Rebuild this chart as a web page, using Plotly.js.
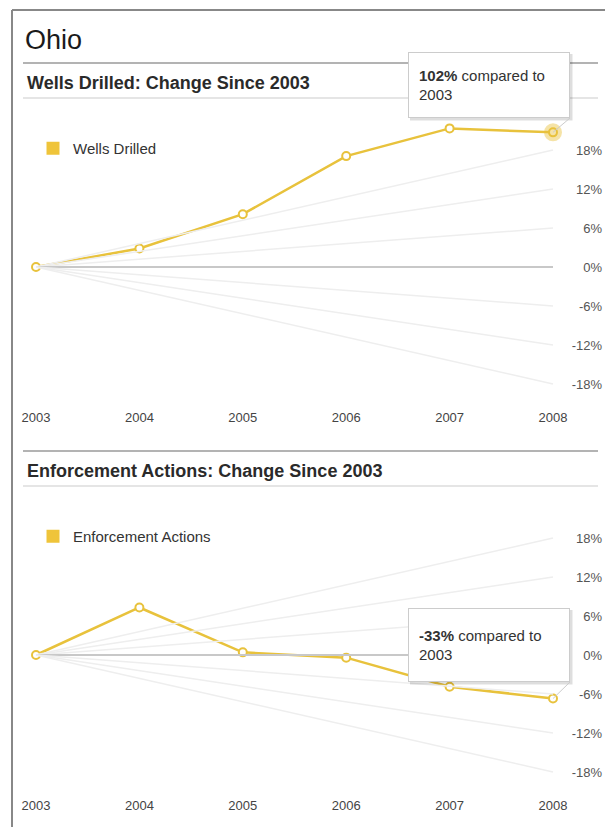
<!DOCTYPE html>
<html><head><meta charset="utf-8">
<script src="https://cdn.plot.ly/plotly-3.0.1.min.js"></script>
<style>html,body{margin:0;padding:0;background:#fff;}#chart{width:605px;height:827px;}</style>
</head><body><div id="chart"></div>
<script>
// ---- data ----
const years = [2003, 2004, 2005, 2006, 2007, 2008];
const yearLabels = ['2003', '2004', '2005', '2006', '2007', '2008'];
const wellsChange = [0, 14, 40, 84, 105, 102];
const enforcementChange = [0, 36, 2, -2, -24, -33];
const fanRates = [18, 12, 6, 0, -6, -12, -18];
const fanLabels = ['18%', '12%', '6%', '0%', '-6%', '-12%', '-18%'];
const chartTitle = 'Ohio';
const wellsTitle = 'Wells Drilled: Change Since 2003';
const enfTitle = 'Enforcement Actions: Change Since 2003';
const wellsName = 'Wells Drilled';
const enfName = 'Enforcement Actions';

// ---- geometry / style ----
const W = 605, H = 827;
const FONT = 'Liberation Sans, Arial, Helvetica, sans-serif';
const GOLD = '#e8c23c';
const x0px = 36, x1px = 553;
const pxYr = (x1px - x0px) / (years[years.length - 1] - years[0]);
const xRange = [years[0] - x0px / pxYr, years[0] + (W - x0px) / pxYr];
const dataPx = 1.32, fanPx = 6.5;
const charts = [
  {top: 105, bot: 408, zero: 267, off: 0},
  {top: 493, bot: 796, zero: 655, off: 388}
];
function ydom(c) { return [1 - c.bot / H, 1 - c.top / H]; }
function yrng(c, s) { return [-(c.bot - c.zero) / s, (c.zero - c.top) / s]; }
function py(px) { return 1 - px / H; }
function px(x) { return x / W; }

const series = [
  {vals: wellsChange, name: wellsName, title: wellsTitle},
  {vals: enforcementChange, name: enfName, title: enfTitle}
];

const traces = [];
const layout = {
  width: W, height: H,
  margin: {l: 0, r: 0, t: 0, b: 0},
  paper_bgcolor: '#fff', plot_bgcolor: 'rgba(0,0,0,0)',
  font: {family: FONT, color: '#333'},
  hovermode: false,
  title: {text: chartTitle, x: px(25), xanchor: 'left', xref: 'paper', y: py(40), yanchor: 'middle', yref: 'paper',
          font: {size: 27, color: '#1a1a1a', family: FONT}},
  shapes: [], annotations: []
};

series.forEach((s, k) => {
  const c = charts[k];
  const xa = k ? 'x2' : 'x', ya = k ? 'y3' : 'y', yf = k ? 'y4' : 'y2';
  const xk = k ? 'xaxis2' : 'xaxis', yk = k ? 'yaxis3' : 'yaxis', fk = k ? 'yaxis4' : 'yaxis2';
  const last = s.vals.length - 1;
  fanRates.forEach(r => {
    traces.push({x: [years[0], years[last]], y: [0, r], xaxis: xa, yaxis: yf, mode: 'lines',
      line: {color: r === 0 ? '#c8c8c8' : '#eeeeee', width: r === 0 ? 2 : 1.5},
      showlegend: false, hoverinfo: 'skip'});
  });
  traces.push({x: years, y: s.vals, xaxis: xa, yaxis: ya, mode: 'lines+markers',
    line: {color: GOLD, width: 2.5},
    marker: {size: 8, color: '#fff', line: {color: GOLD, width: 2}},
    showlegend: false});
  if (k === 0) {
    traces.push({x: [years[last]], y: [s.vals[last]], xaxis: xa, yaxis: ya, mode: 'markers',
      marker: {size: 18, color: 'rgba(232,194,60,0.45)'}, showlegend: false, hoverinfo: 'skip'});
  }
  traces.push({x: [null], y: [null], xaxis: xa, yaxis: ya, type: 'scatter', mode: 'markers',
    marker: {symbol: 'square', size: 13, color: '#efc43a'}, name: s.name,
    legend: k ? 'legend2' : 'legend', showlegend: true});

  layout[xk] = {domain: [0, 1], range: xRange, anchor: ya, tickmode: 'array', tickvals: years, ticktext: yearLabels,
    showgrid: false, zeroline: false, showline: false, ticks: '', tickfont: {size: 13, color: '#444', family: FONT}};
  layout[yk] = {domain: ydom(c), range: yrng(c, dataPx), anchor: xa, visible: false, showgrid: false, zeroline: false};
  layout[fk] = {range: yrng(c, fanPx), overlaying: ya, anchor: xa, side: 'right', ticklabelposition: 'inside',
    tickmode: 'array', tickvals: fanRates, ticktext: fanLabels, showgrid: false, zeroline: false, showline: false, ticks: '',
    tickfont: {size: 13, color: '#555', family: FONT}};
  layout[k ? 'legend2' : 'legend'] = {x: px(33), y: py(132 + c.off), xanchor: 'left', yanchor: 'top',
    bgcolor: 'rgba(0,0,0,0)', font: {size: 15, color: '#333', family: FONT}};

  // section heading + rules
  layout.annotations.push({text: '<b>' + s.title + '</b>', x: px(25), y: py(83 + c.off), xref: 'paper', yref: 'paper',
    xanchor: 'left', yanchor: 'middle', showarrow: false, font: {size: 18, color: '#2a2a2a', family: FONT}});
  layout.shapes.push({type: 'line', xref: 'paper', yref: 'paper', x0: px(23), x1: px(598), y0: py(63 + c.off), y1: py(63 + c.off),
    line: {color: '#9a9a9a', width: 1.5}});
  layout.shapes.push({type: 'line', xref: 'paper', yref: 'paper', x0: px(23), x1: px(598), y0: py(98 + c.off), y1: py(98 + c.off),
    line: {color: '#dddddd', width: 1.5}});

  // tooltip callout
  const boxH = k ? 52 : 44;
  const boxBot = k ? 682 : 118;
  const boxTop = boxBot - boxH - 22;
  // soft shadow behind the callout box
  layout.shapes.push({type: 'rect', xref: 'paper', yref: 'paper', layer: 'above',
    x0: px(410), x1: px(572.5), y0: py(boxTop + 2), y1: py(boxBot + 2.5),
    fillcolor: 'rgba(0,0,0,0.13)', line: {width: 0}});
  layout.annotations.push({text: '<b>' + s.vals[last] + '%</b> compared to<br>' + years[0],
    x: years[last], y: s.vals[last], xref: xa, yref: ya,
    showarrow: true, arrowhead: 0, arrowwidth: 1, arrowcolor: '#cccccc',
    ax: 570 - x1px, ay: boxBot - (c.zero - s.vals[last] * dataPx),
    xanchor: 'right', yanchor: 'bottom', align: 'left', valign: 'middle',
    width: 140, height: boxH, borderpad: 10, borderwidth: 1, bordercolor: '#cccccc', bgcolor: '#ffffff',
    font: {size: 15, color: '#333', family: FONT}});
});

// outer frame
layout.shapes.push({type: 'line', xref: 'paper', yref: 'paper', x0: px(12), x1: 1, y0: py(10), y1: py(10), line: {color: '#888', width: 2}});
layout.shapes.push({type: 'line', xref: 'paper', yref: 'paper', x0: px(12), x1: px(12), y0: py(10), y1: 0, line: {color: '#888', width: 2}});

Plotly.newPlot('chart', traces, layout, {staticPlot: true, displayModeBar: false});
</script>
</body></html>
